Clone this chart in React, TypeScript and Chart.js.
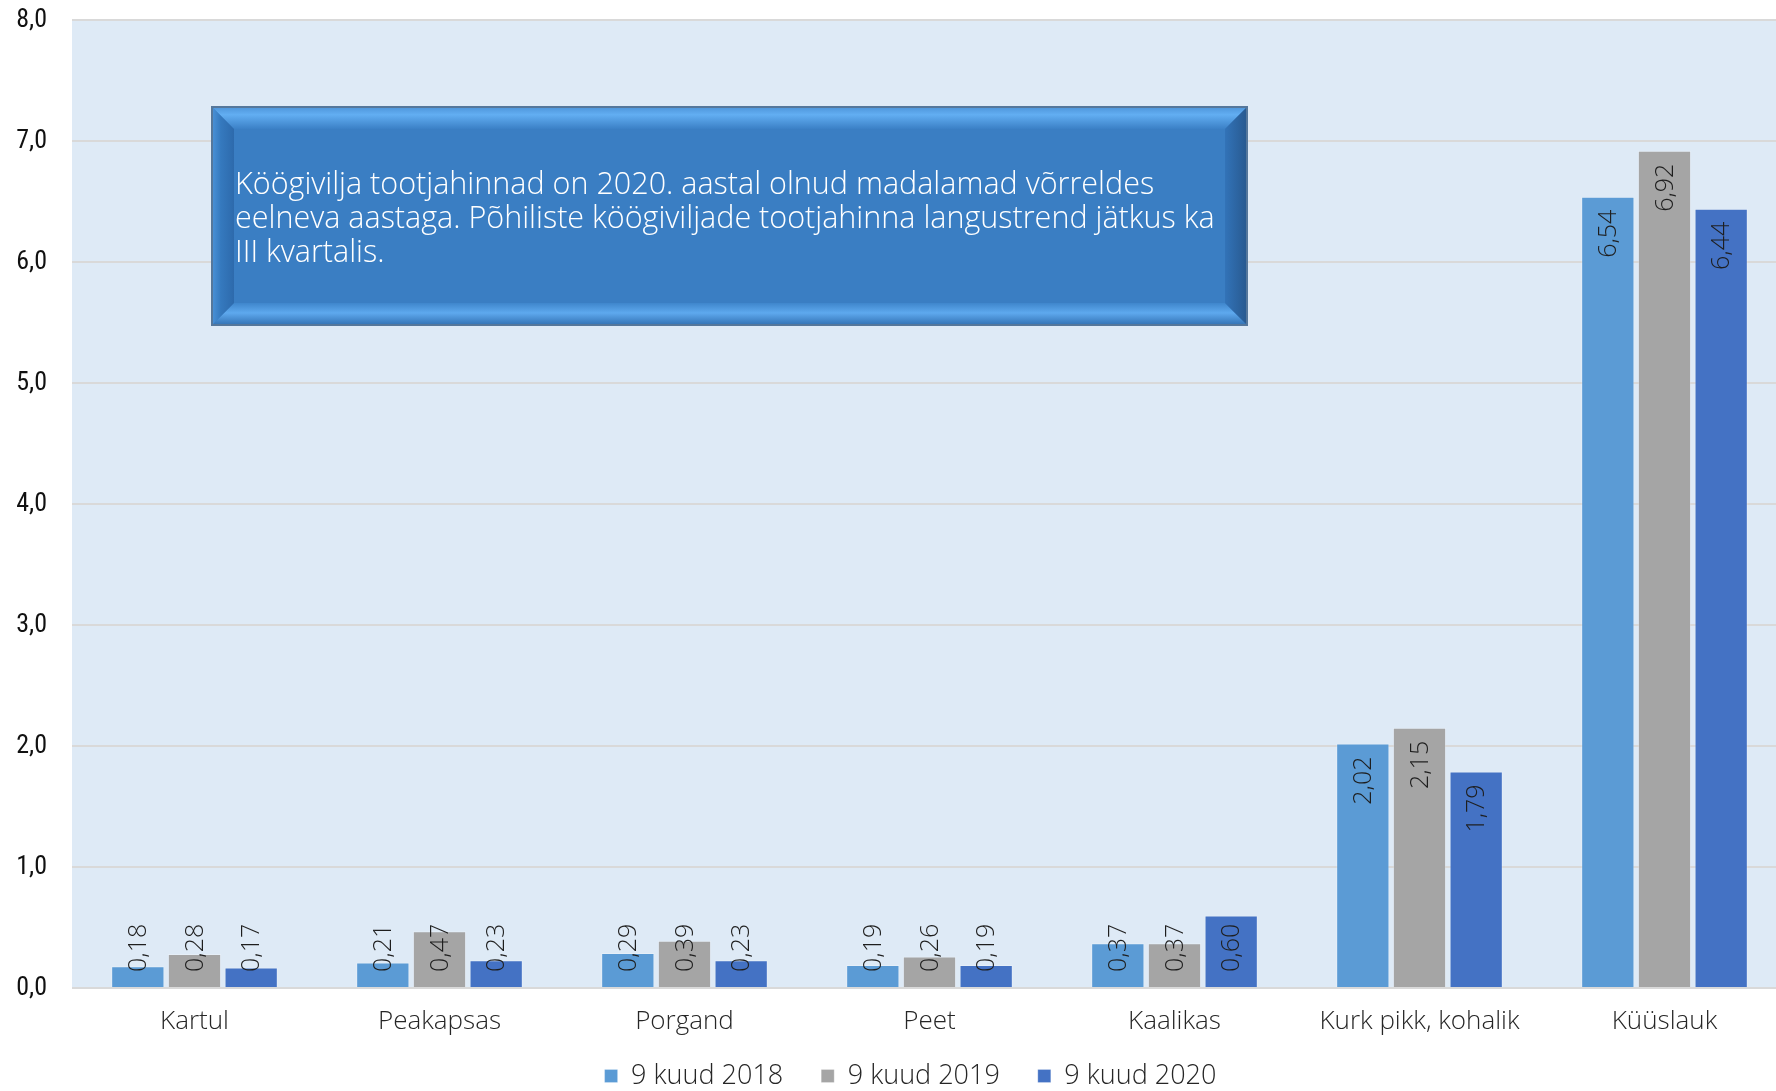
import React, { useEffect, useRef } from "react";
import { Chart, registerables } from "chart.js";

Chart.register(...registerables);

const categories = ["Kartul", "Peakapsas", "Porgand", "Peet", "Kaalikas", "Kurk pikk, kohalik", "Küüslauk"];
const seriesLabels = ["9 kuud 2018", "9 kuud 2019", "9 kuud 2020"];
const values2018 = [0.18, 0.21, 0.29, 0.19, 0.37, 2.02, 6.54];
const values2019 = [0.28, 0.47, 0.39, 0.26, 0.37, 2.15, 6.92];
const values2020 = [0.17, 0.23, 0.23, 0.19, 0.6, 1.79, 6.44];
const seriesColors = ["#5B9BD5", "#A5A5A5", "#4472C4"];
const yMin = 0;
const yMax = 8;
const yStep = 1;
const noteLines = [
  "Köögivilja tootjahinnad on 2020. aastal olnud madalamad võrreldes",
  "eelneva aastaga. Põhiliste köögiviljade tootjahinna langustrend jätkus ka",
  "III kvartalis.",
];

const LIGHT_FONT = "'Open Sans', Lato, 'DejaVu Sans', sans-serif";
const NARROW_FONT = "'Liberation Sans Narrow', 'Roboto Condensed', Roboto, 'Liberation Sans', sans-serif";

const fmt = (v: number, d: number) => v.toFixed(d).replace(".", ",");

const bgPlugin = {
  id: "plotBg",
  beforeDraw(chart: any) {
    const { ctx, chartArea } = chart;
    ctx.save();
    ctx.fillStyle = "#DEEAF6";
    ctx.fillRect(chartArea.left, chartArea.top, chartArea.right - chartArea.left, chartArea.bottom - chartArea.top);
    ctx.restore();
  },
};

const legendShift = {
  id: "legendShift",
  afterLayout(chart: any) {
    const lg = chart.legend;
    if (lg) {
      lg.top -= 19.5;
      lg.bottom -= 19.5;
      lg.left += 17;
      lg.right += 17;
    }
  },
};

const labelPlugin = {
  id: "valueLabels",
  afterDatasetsDraw(chart: any) {
    const { ctx } = chart;
    ctx.save();
    ctx.font = `300 25px ${LIGHT_FONT}`;
    ctx.fillStyle = "#1e1e1e";
    ctx.textAlign = "left";
    ctx.textBaseline = "middle";
    chart.data.datasets.forEach((ds: any, i: number) => {
      const meta = chart.getDatasetMeta(i);
      meta.data.forEach((bar: any, j: number) => {
        const txt = fmt(ds.data[j], 2);
        const w = ctx.measureText(txt).width;
        let start = bar.y + 13 + w;
        if (start > bar.base - 15) start = bar.base - 15;
        ctx.save();
        ctx.translate(bar.x, start);
        ctx.rotate(-Math.PI / 2);
        ctx.fillText(txt, 0, 1);
        ctx.restore();
      });
    });
    ctx.restore();
  },
};

const notePlugin = {
  id: "noteBox",
  afterDraw(chart: any) {
    const { ctx } = chart;
    const x = 212, y = 107, w = 1035, h = 218, b = 22;
    ctx.save();
    ctx.fillStyle = "#3A7EC3";
    ctx.fillRect(x, y, w, h);
    let g = ctx.createLinearGradient(0, y, 0, y + b);
    g.addColorStop(0, "#4E95DA");
    g.addColorStop(0.35, "#62AEF2");
    g.addColorStop(1, "#3B80C6");
    ctx.fillStyle = g;
    ctx.beginPath();
    ctx.moveTo(x, y); ctx.lineTo(x + w, y); ctx.lineTo(x + w - b, y + b); ctx.lineTo(x + b, y + b); ctx.closePath();
    ctx.fill();
    g = ctx.createLinearGradient(0, y + h - b, 0, y + h);
    g.addColorStop(0, "#3F86CC");
    g.addColorStop(0.45, "#5EA9EE");
    g.addColorStop(1, "#3372B4");
    ctx.fillStyle = g;
    ctx.beginPath();
    ctx.moveTo(x, y + h); ctx.lineTo(x + w, y + h); ctx.lineTo(x + w - b, y + h - b); ctx.lineTo(x + b, y + h - b); ctx.closePath();
    ctx.fill();
    g = ctx.createLinearGradient(x, 0, x + b, 0);
    g.addColorStop(0, "#4A92D8");
    g.addColorStop(0.4, "#3579BE");
    g.addColorStop(1, "#2D6AAC");
    ctx.fillStyle = g;
    ctx.beginPath();
    ctx.moveTo(x, y); ctx.lineTo(x + b, y + b); ctx.lineTo(x + b, y + h - b); ctx.lineTo(x, y + h); ctx.closePath();
    ctx.fill();
    g = ctx.createLinearGradient(x + w - b, 0, x + w, 0);
    g.addColorStop(0, "#3273B8");
    g.addColorStop(1, "#28598F");
    ctx.fillStyle = g;
    ctx.beginPath();
    ctx.moveTo(x + w, y); ctx.lineTo(x + w - b, y + b); ctx.lineTo(x + w - b, y + h - b); ctx.lineTo(x + w, y + h); ctx.closePath();
    ctx.fill();
    ctx.strokeStyle = "#55779B";
    ctx.lineWidth = 2;
    ctx.strokeRect(x, y, w, h);
    ctx.fillStyle = "#FFFFFF";
    ctx.textAlign = "left";
    ctx.textBaseline = "alphabetic";
    let size = 28;
    ctx.font = `300 ${size}px ${LIGHT_FONT}`;
    const lw = ctx.measureText(noteLines[1]).width;
    size = Math.max(20, Math.min(34, size * (980 / lw)));
    ctx.font = `300 ${size}px ${LIGHT_FONT}`;
    noteLines.forEach((line, i) => {
      ctx.fillText(line, 235, 194 + i * 34);
    });
    ctx.restore();
  },
};

export default function App() {
  const canvasRef = useRef<HTMLCanvasElement>(null);
  useEffect(() => {
    document.body.style.margin = "0";
    const el = canvasRef.current;
    if (!el) return;
    const mk = (i: number, data: number[]) => ({
      label: seriesLabels[i],
      data,
      backgroundColor: seriesColors[i],
      borderColor: "rgba(255,255,255,0.25)",
      borderWidth: 1,
      categoryPercentage: 0.694,
      barPercentage: 0.94,
    });
    const chart = new Chart(el, {
      type: "bar",
      data: {
        labels: categories,
        datasets: [mk(0, values2018), mk(1, values2019), mk(2, values2020)],
      },
      options: {
        animation: false,
        responsive: true,
        maintainAspectRatio: false,
        layout: { padding: { top: 20, right: 1, bottom: -28, left: 0 } },
        plugins: {
          legend: {
            position: "bottom",
            labels: {
              boxWidth: 13,
              boxHeight: 13,
              padding: 38,
              color: "#262626",
              font: { family: LIGHT_FONT, size: 27, weight: "300" },
            },
          },
          tooltip: { enabled: false },
        },
        scales: {
          x: {
            grid: { display: false },
            border: { display: false },
            ticks: {
              color: "#262626",
              padding: 10,
              font: { family: LIGHT_FONT, size: 26, weight: "300" },
            },
            afterFit: (s: any) => {
              s.height = 56;
            },
          },
          y: {
            min: yMin,
            max: yMax,
            ticks: {
              stepSize: yStep,
              padding: 25,
              color: "#111111",
              font: { family: NARROW_FONT, size: 26 },
              callback: (v: any) => fmt(Number(v), 1),
            },
            grid: { color: "#D9D9D9", lineWidth: 2, drawTicks: false },
            border: { display: false },
            afterFit: (s: any) => {
              s.width = 72;
              s.paddingTop = 0;
              s.paddingBottom = 0;
            },
          },
        },
      } as any,
      plugins: [bgPlugin, legendShift, labelPlugin, notePlugin],
    });
    return () => chart.destroy();
  }, []);
  return (
    <div style={{ position: "relative", width: 1776, height: 1091, overflow: "hidden" }}>
      <div style={{ position: "absolute", left: 0, top: 0, width: 1788, height: 1091 }}>
        <canvas ref={canvasRef} />
      </div>
    </div>
  );
}
